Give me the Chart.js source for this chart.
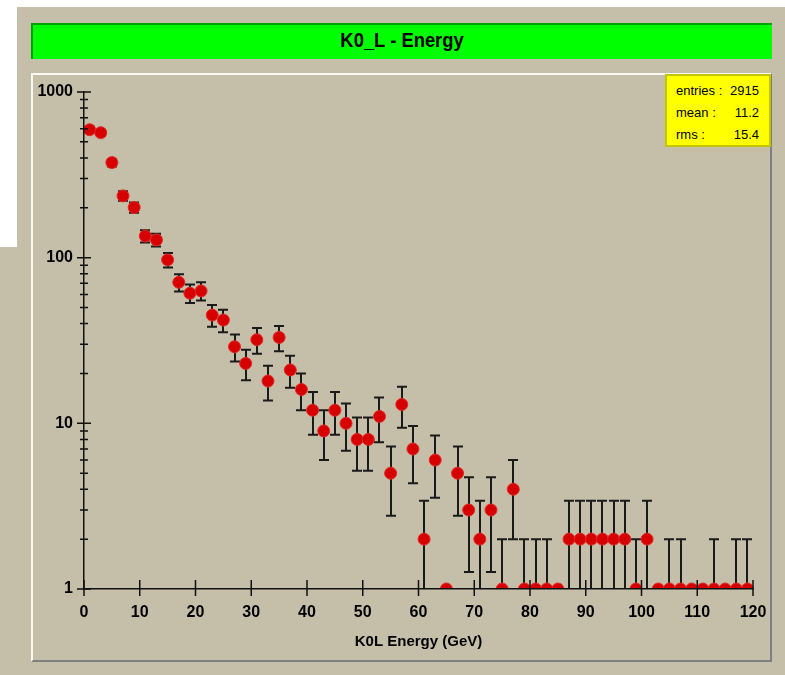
<!DOCTYPE html>
<html>
<head>
<meta charset="utf-8">
<script src="https://cdn.jsdelivr.net/npm/chart.js@4/dist/chart.umd.min.js"></script>
<style>
  body { margin:0; width:785px; height:675px; background:#c5bea8; position:relative; overflow:hidden; }
  #top_white { position:absolute; left:0; top:0; width:785px; height:7px; background:#fff; }
  #left_white { position:absolute; left:0; top:0; width:17px; height:247px; background:#fff; }
  #title_bar { position:absolute; left:31px; top:23px; width:739px; height:30px; padding-top:4px; background:#00ff00;
    border-top:2px solid #00a000; border-left:2px solid #00a000;
    text-align:center; line-height:36px; font:bold 20px 'Liberation Sans',Arial,sans-serif; color:#000; }
  #title_bar span { display:inline-block; transform:scale(0.92, 1.05); }
  #frame { position:absolute; left:31px; top:73px; width:737px; height:585px;
    border-top:2px solid #fbfaf2; border-left:2px solid #fbfaf2; border-right:2px solid #7f7f7f; border-bottom:2px solid #7f7f7f; }
  #graph { position:absolute; left:33px; top:75px; width:737px; height:585px; }
  #stats { position:absolute; left:665px; top:74px; width:102px; height:69px; background:#ffff00; border:2px solid #c4c400;
    font:13px 'Liberation Sans',Arial,sans-serif; color:#000; }
  .stat_row { position:absolute; left:9px; width:83px; height:16px; line-height:16px; }
  .stat_row span { position:absolute; right:0; }
</style>
</head>
<body>
<div id="top_white"></div>
<div id="left_white"></div>
<div id="title_bar"><span>K0_L - Energy</span></div>
<div id="frame"></div>
<canvas id="graph" width="737" height="585"></canvas>
<div id="stats"></div>
<script>
// histogram bins (2 GeV wide) and their counts
var bin_centers = [1, 3, 5, 7, 9, 11, 13, 15, 17, 19, 21, 23, 25, 27, 29, 31, 33, 35, 37, 39,
                   41, 43, 45, 47, 49, 51, 53, 55, 57, 59, 61, 63, 65, 67, 69, 71, 73, 75, 77, 79,
                   81, 83, 85, 87, 89, 91, 93, 95, 97, 99, 101, 103, 105, 107, 109, 111, 113, 115, 117, 119];
var counts = [592, 568, 375, 236, 201, 135, 128, 97, 71, 61, 63, 45, 42, 29, 23, 32, 18, 33, 21, 16,
              12, 9, 12, 10, 8, 8, 11, 5, 13, 7, 2, 6, 0, 5, 3, 2, 3, 1, 4, 1,
              1, 1, 0, 2, 2, 2, 2, 2, 2, 1, 2, 0, 1, 1, 0, 0, 1, 0, 1, 1];

var x_ticks = [0, 10, 20, 30, 40, 50, 60, 70, 80, 90, 100, 110, 120];
var y_major_ticks = [1, 10, 100, 1000];
var y_minor_steps = [2, 3, 4, 5, 6, 7, 8, 9];

var stats_labels = ['entries :', 'mean :', 'rms :'];
var stats_values = ['2915', '11.2', '15.4'];

var axis_font = "'Liberation Sans',Arial,sans-serif";

window.onload = ()=>{
    // stats box
    var stats_box = document.getElementById('stats');
    for (let i = 0; i < stats_labels.length; i++) {
        let row = document.createElement('div');
        row.className = 'stat_row';
        row.style.top = (7 + i * 22) + 'px';
        row.textContent = stats_labels[i];
        let val = document.createElement('span');
        val.textContent = stats_values[i];
        row.appendChild(val);
        stats_box.appendChild(row);
    }

    // empty bins are drawn on the floor of the log axis
    var points = [];
    for (let i = 0; i < counts.length; i++) {
        points.push({x: bin_centers[i], y: Math.max(counts[i], y_major_ticks[0])});
    }

    var error_bars = {
        id: 'error_bars',
        beforeDatasetsDraw(chart) {
            const ctx = chart.ctx, area = chart.chartArea;
            const xs = chart.scales.x, ys = chart.scales.y;
            ctx.save();
            ctx.beginPath();
            ctx.rect(area.left, area.top - 2, area.right - area.left, area.bottom - area.top + 2);
            ctx.clip();
            ctx.strokeStyle = '#1a1a1a';
            ctx.lineWidth = 2;
            for (let i = 0; i < counts.length; i++) {
                let n = counts[i];
                if (n <= 0) continue;
                let err = Math.sqrt(n);
                let px = Math.round(xs.getPixelForValue(bin_centers[i]));
                let hi = ys.getPixelForValue(n + err);
                let lo_val = n - err;
                let lo = lo_val >= 1 ? ys.getPixelForValue(lo_val) : area.bottom + 20;
                ctx.beginPath();
                ctx.moveTo(px, hi);
                ctx.lineTo(px, lo);
                ctx.moveTo(px - 5, hi);
                ctx.lineTo(px + 5, hi);
                if (lo_val >= 1) {
                    ctx.moveTo(px - 5, lo);
                    ctx.lineTo(px + 5, lo);
                }
                ctx.stroke();
            }
            ctx.restore();
        }
    };

    var axis_ticks = {
        id: 'axis_ticks',
        afterDraw(chart) {
            const ctx = chart.ctx, area = chart.chartArea;
            const xs = chart.scales.x, ys = chart.scales.y;
            ctx.save();
            ctx.strokeStyle = '#101010';
            ctx.lineWidth = 1.5;
            ctx.beginPath();
            for (const v of x_ticks) {
                let px = xs.getPixelForValue(v);
                ctx.moveTo(px, area.bottom - 9);
                ctx.lineTo(px, area.bottom + 7);
            }
            for (const v of y_major_ticks) {
                let py = ys.getPixelForValue(v);
                ctx.moveTo(area.left - 7, py);
                ctx.lineTo(area.left + 7, py);
            }
            for (let d = 0; d < y_major_ticks.length - 1; d++) {
                for (const m of y_minor_steps) {
                    let py = ys.getPixelForValue(y_major_ticks[d] * m);
                    ctx.moveTo(area.left - 4, py);
                    ctx.lineTo(area.left + 4, py);
                }
            }
            ctx.stroke();
            ctx.restore();
        }
    };

    function no_pad(s) {
        s.paddingLeft = 0;
        s.paddingRight = 0;
        s.paddingTop = 0;
        s.paddingBottom = 0;
    }

    var chart = new Chart('graph', {
        type: 'scatter',
        data: {
            datasets: [{
                data: points,
                pointStyle: 'circle',
                pointRadius: 6,
                pointHoverRadius: 6,
                backgroundColor: '#d60000',
                borderColor: '#e02828',
                borderWidth: 1,
                showLine: false,
                clip: 0
            }]
        },
        options: {
            responsive: false,
            animation: false,
            devicePixelRatio: 1,
            events: [],
            layout: { padding: { left: 0, top: 17, right: 17, bottom: 0 } },
            plugins: {
                legend: { display: false },
                tooltip: { enabled: false },
                title: { display: false }
            },
            scales: {
                x: {
                    type: 'linear',
                    min: 0,
                    max: 120,
                    grid: { display: false, drawTicks: false },
                    border: { display: true, color: '#101010', width: 1.5, z: 1 },
                    ticks: { color: '#000', font: { family: axis_font, weight: 'bold', size: 16 }, padding: 14, autoSkip: false, maxRotation: 0 },
                    afterBuildTicks: (s)=>{ s.ticks = x_ticks.map(v => ({value: v})); },
                    afterFit: (s)=>{ s.height = 71; no_pad(s); },
                    title: { display: true, text: 'K0L Energy (GeV)', color: '#000',
                             font: { family: axis_font, weight: 'bold', size: 15 }, padding: { top: 0, bottom: 9 } }
                },
                y: {
                    type: 'logarithmic',
                    min: 1,
                    max: 1000,
                    grid: { display: false, drawTicks: false },
                    border: { display: true, color: '#101010', width: 1.5, z: 1 },
                    ticks: { color: '#000', font: { family: axis_font, weight: 'bold', size: 16 }, padding: 11,
                             callback: (v)=>String(v) },
                    afterBuildTicks: (s)=>{ s.ticks = y_major_ticks.map(v => ({value: v})); },
                    afterFit: (s)=>{ s.width = 51; no_pad(s); }
                }
            }
        },
        plugins: [error_bars, axis_ticks]
    });
}
</script>
</body>
</html>
